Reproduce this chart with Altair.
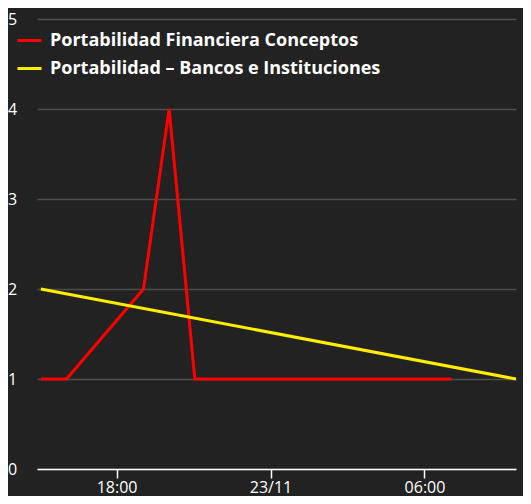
import altair as alt
import pandas as pd

series_names = ["Portabilidad Financiera Conceptos", "Portabilidad – Bancos e Instituciones"]
series_colors = ["#ff0000", "#ffee00"]

red_times = ["2023-11-22T15:03:00", "2023-11-22T16:03:00", "2023-11-22T19:03:00",
             "2023-11-22T20:03:00", "2023-11-22T21:03:00", "2023-11-23T07:03:00"]
red_values = [1, 1, 2, 4, 1, 1]

yellow_times = ["2023-11-22T15:03:00", "2023-11-23T09:34:00"]
yellow_values = [2, 1]

tick_times = [(22, 18), (23, 0), (23, 6)]

df = pd.concat([
    pd.DataFrame({"time": red_times, "value": red_values, "serie": series_names[0]}),
    pd.DataFrame({"time": yellow_times, "value": yellow_values, "serie": series_names[1]}),
])

x_domain = [alt.DateTime(year=2023, month=11, date=22, hours=14, minutes=54),
            alt.DateTime(year=2023, month=11, date=23, hours=9, minutes=34)]
x_ticks = [alt.DateTime(year=2023, month=11, date=d, hours=h) for d, h in tick_times]

label_expr = "hours(datum.value) == 0 ? timeFormat(datum.value, '%d/%m') : timeFormat(datum.value, '%H:%M')"

chart = alt.Chart(df).mark_line(strokeWidth=3).encode(
    x=alt.X("time:T", title=None,
            scale=alt.Scale(domain=x_domain),
            axis=alt.Axis(grid=False, values=x_ticks,
                          labelExpr=label_expr, domainColor="#ffffff", domainWidth=1.5,
                          tickColor="#ffffff", tickSize=9, tickWidth=1.5,
                          labelColor="#ffffff", labelFontSize=16, labelPadding=1,
                          labelFlush=False)),
    y=alt.Y("value:Q", title=None,
            scale=alt.Scale(domain=[0, 5]),
            axis=alt.Axis(values=[0, 1, 2, 3, 4, 5], domain=False, ticks=False, tickSize=0,
                          gridColor="#4d4d4d", gridWidth=1.5,
                          labelColor="#ffffff", labelFontSize=16, labelAlign="center",
                          labelPadding=25)),
    color=alt.Color("serie:N", scale=alt.Scale(domain=series_names, range=series_colors),
                    legend=alt.Legend(title=None, orient="none", legendX=-21, legendY=8,
                                      symbolType="stroke", symbolSize=576, symbolStrokeWidth=3,
                                      labelColor="#ffffff", labelFontSize=18, labelFontWeight="bold",
                                      labelOffset=7, rowPadding=5, padding=0, labelLimit=500)),
).properties(
    width=479, height=450,
    background="#222222",
    autosize=alt.AutoSizeParams(type="none"),
    padding={"left": 29, "top": 11, "right": 7, "bottom": 27},
).configure(font="Open Sans").configure_view(stroke=None)

chart.save("out.html", embed_options={"renderer": "svg", "actions": False})
